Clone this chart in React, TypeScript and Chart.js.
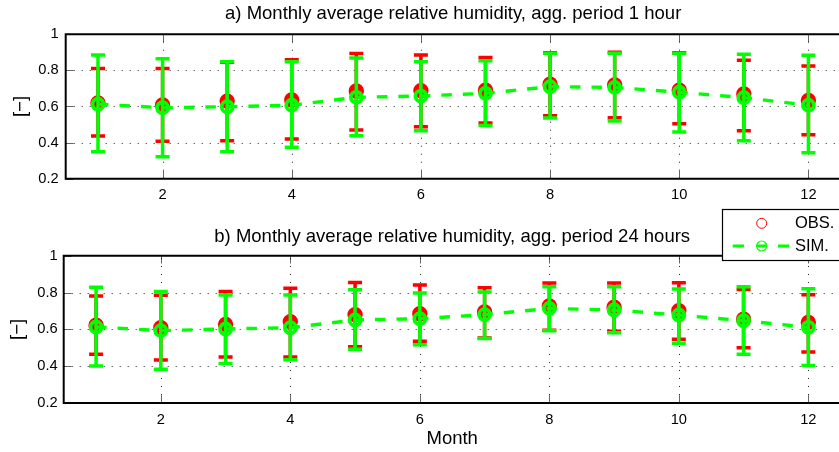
import React, { useEffect, useRef } from "react";
import { Chart, registerables } from "chart.js";

Chart.register(...registerables);

// ---------- data ----------
const MONTHS = [1, 2, 3, 4, 5, 6, 7, 8, 9, 10, 11, 12];
const X_TICKS = [2, 4, 6, 8, 10, 12];
const Y_TICKS = [0.2, 0.4, 0.6, 0.8, 1];
const SERIES_LABELS = ["OBS.", "SIM."];
const TITLE_A = "a) Monthly average relative humidity, agg. period 1 hour";
const TITLE_B = "b) Monthly average relative humidity, agg. period 24 hours";
const X_LABEL = "Month";
const Y_LABEL = "[\u2212]";

// a) aggregation period 1 hour
const OBS_A = [0.62, 0.608, 0.63, 0.636, 0.686, 0.688, 0.69, 0.723, 0.72, 0.69, 0.669, 0.634];
const OBS_A_LOW = [0.437, 0.407, 0.41, 0.42, 0.47, 0.488, 0.508, 0.549, 0.538, 0.505, 0.466, 0.444];
const OBS_A_HIGH = [0.81, 0.81, 0.845, 0.859, 0.893, 0.885, 0.871, 0.898, 0.9, 0.898, 0.856, 0.824];
const SIM_A = [0.613, 0.593, 0.599, 0.607, 0.651, 0.658, 0.673, 0.71, 0.706, 0.679, 0.649, 0.607];
const SIM_A_LOW = [0.35, 0.322, 0.35, 0.374, 0.438, 0.466, 0.495, 0.536, 0.52, 0.459, 0.41, 0.344];
const SIM_A_HIGH = [0.885, 0.865, 0.848, 0.848, 0.869, 0.848, 0.853, 0.895, 0.895, 0.895, 0.889, 0.884];

// b) aggregation period 24 hours
const OBS_B = [0.622, 0.609, 0.627, 0.642, 0.68, 0.685, 0.694, 0.727, 0.72, 0.701, 0.655, 0.638];
const OBS_B_LOW = [0.465, 0.434, 0.45, 0.45, 0.506, 0.535, 0.553, 0.595, 0.59, 0.546, 0.5, 0.477];
const OBS_B_HIGH = [0.781, 0.785, 0.805, 0.823, 0.855, 0.841, 0.826, 0.852, 0.852, 0.853, 0.817, 0.788];
const SIM_B = [0.613, 0.593, 0.602, 0.609, 0.651, 0.658, 0.68, 0.714, 0.705, 0.678, 0.647, 0.611];
const SIM_B_LOW = [0.401, 0.383, 0.414, 0.435, 0.492, 0.517, 0.55, 0.593, 0.582, 0.524, 0.465, 0.403];
const SIM_B_HIGH = [0.828, 0.805, 0.787, 0.787, 0.815, 0.797, 0.803, 0.832, 0.832, 0.819, 0.832, 0.821];

// ---------- style ----------
const FONT = "'Liberation Sans', Arial, Helvetica, sans-serif";
const RED = "#ff0000";
const GREEN = "#00ff00";
const CANVAS_W = 850;

type Panel = {
  title: string;
  obs: number[];
  obsLow: number[];
  obsHigh: number[];
  sim: number[];
  simLow: number[];
  simHigh: number[];
  top: number;
  height: number;
  yAxisWidth: number;
  xAxisHeight: number;
  titlePadTop: number;
  titlePadBottom: number;
  yTitlePad: number;
  yTickPad: number;
  xTickPad: number;
  xTitle: boolean;
  legend: boolean;
};

const PANELS: Panel[] = [
  {
    title: TITLE_A,
    obs: OBS_A, obsLow: OBS_A_LOW, obsHigh: OBS_A_HIGH,
    sim: SIM_A, simLow: SIM_A_LOW, simHigh: SIM_A_HIGH,
    top: 0, height: 220,
    yAxisWidth: 65.7, xAxisHeight: 41.3,
    titlePadTop: 3.2, titlePadBottom: 8.9,
    yTitlePad: 9.4, yTickPad: 7, xTickPad: 7,
    xTitle: false, legend: false,
  },
  {
    title: TITLE_B,
    obs: OBS_B, obsLow: OBS_B_LOW, obsHigh: OBS_B_HIGH,
    sim: SIM_B, simLow: SIM_B_LOW, simHigh: SIM_B_HIGH,
    top: 200, height: 252,
    yAxisWidth: 63.7, xAxisHeight: 49,
    titlePadTop: 25.6, titlePadBottom: 7.9,
    yTitlePad: 7.2, yTickPad: 6, xTickPad: 8,
    xTitle: true, legend: true,
  },
];

function makePlugin(panel: Panel) {
  return {
    id: "matlabStyle",
    beforeDatasetsDraw(chart: any) {
      const { ctx, chartArea: ca } = chart;
      const xs = chart.scales.x;
      const ys = chart.scales.y;
      ctx.save();
      ctx.strokeStyle = "rgba(0,0,0,0.85)";
      ctx.lineWidth = 1;
      ctx.setLineDash([1, 7]);
      xs.ticks.forEach((t: any) => {
        const px = Math.round(xs.getPixelForValue(t.value)) + 0.5;
        ctx.beginPath();
        ctx.moveTo(px, ca.bottom);
        ctx.lineTo(px, ca.top);
        ctx.stroke();
      });
      ys.ticks.forEach((t: any) => {
        if (t.value <= ys.min + 1e-9 || t.value >= ys.max - 1e-9) return;
        const py = Math.round(ys.getPixelForValue(t.value)) + 0.5;
        ctx.beginPath();
        ctx.moveTo(ca.left, py);
        ctx.lineTo(ca.right, py);
        ctx.stroke();
      });
      ctx.restore();
    },
    beforeDatasetDraw(chart: any, args: any) {
      const ds = chart.data.datasets[args.index];
      if (!ds.errLow) return;
      const xs = chart.scales.x;
      const ys = chart.scales.y;
      const ctx = chart.ctx;
      ctx.save();
      ctx.strokeStyle = ds.errColor;
      ctx.lineWidth = 3.5;
      ctx.lineCap = "butt";
      ds.data.forEach((pt: any, i: number) => {
        const px = xs.getPixelForValue(pt.x);
        const pl = ys.getPixelForValue(ds.errLow[i]);
        const ph = ys.getPixelForValue(ds.errHigh[i]);
        ctx.beginPath();
        ctx.moveTo(px, pl);
        ctx.lineTo(px, ph);
        ctx.moveTo(px - 7, pl);
        ctx.lineTo(px + 7, pl);
        ctx.moveTo(px - 7, ph);
        ctx.lineTo(px + 7, ph);
        ctx.stroke();
      });
      ctx.restore();
    },
    afterDatasetsDraw(chart: any) {
      const { ctx, chartArea: ca } = chart;
      const xs = chart.scales.x;
      const ys = chart.scales.y;
      ctx.save();
      // inward tick marks
      ctx.strokeStyle = "rgba(0,0,0,0.6)";
      ctx.lineWidth = 1;
      const tl = 7.8;
      xs.ticks.forEach((t: any) => {
        const px = Math.round(xs.getPixelForValue(t.value)) + 0.5;
        ctx.beginPath();
        ctx.moveTo(px, ca.bottom);
        ctx.lineTo(px, ca.bottom - tl);
        ctx.moveTo(px, ca.top);
        ctx.lineTo(px, ca.top + tl);
        ctx.stroke();
      });
      ys.ticks.forEach((t: any) => {
        const py = Math.round(ys.getPixelForValue(t.value)) + 0.5;
        ctx.beginPath();
        ctx.moveTo(ca.left, py);
        ctx.lineTo(ca.left + tl, py);
        ctx.stroke();
      });
      // axes box (left, top, bottom)
      ctx.strokeStyle = "#000";
      ctx.lineWidth = 2;
      ctx.beginPath();
      ctx.moveTo(ca.right + 2, ca.top);
      ctx.lineTo(ca.left, ca.top);
      ctx.lineTo(ca.left, ca.bottom);
      ctx.lineTo(ca.right + 2, ca.bottom);
      ctx.stroke();

      if (panel.legend) {
        const bx = 722.5;
        const by = 9.5;
        ctx.fillStyle = "#fff";
        ctx.fillRect(bx, by, 200, 51);
        ctx.strokeStyle = "#000";
        ctx.lineWidth = 1.2;
        ctx.strokeRect(bx, by, 200, 51);
        const mx = 761.7;
        const r1 = 23.3;
        const r2 = 46;
        // OBS marker
        ctx.strokeStyle = RED;
        ctx.lineWidth = 1;
        ctx.beginPath();
        ctx.arc(mx, r1, 5, 0, Math.PI * 2);
        ctx.stroke();
        // SIM line + marker
        ctx.strokeStyle = GREEN;
        ctx.lineWidth = 3;
        ctx.beginPath();
        ctx.moveTo(732.7, r2);
        ctx.lineTo(744, r2);
        ctx.moveTo(756.5, r2);
        ctx.lineTo(767, r2);
        ctx.moveTo(778, r2);
        ctx.lineTo(789.3, r2);
        ctx.stroke();
        ctx.lineWidth = 1.2;
        ctx.beginPath();
        ctx.arc(mx, r2, 5, 0, Math.PI * 2);
        ctx.stroke();
        ctx.fillStyle = "#000";
        ctx.font = `16.5px ${FONT}`;
        ctx.textBaseline = "middle";
        ctx.textAlign = "left";
        ctx.fillText(SERIES_LABELS[0], 795, r1 + 0.5);
        ctx.fillText(SERIES_LABELS[1], 795, r2 + 0.5);
      }
      ctx.restore();
    },
  };
}

function PanelChart({ panel }: { panel: Panel }) {
  const ref = useRef<HTMLCanvasElement | null>(null);
  useEffect(() => {
    if (!ref.current) return;
    const obsData = MONTHS.map((m, i) => ({ x: m, y: panel.obs[i] }));
    const simData = MONTHS.map((m, i) => ({ x: m, y: panel.sim[i] }));
    const chart = new Chart(ref.current, {
      type: "line",
      data: {
        datasets: [
          {
            label: SERIES_LABELS[0],
            data: obsData,
            showLine: false,
            order: 2,
            pointStyle: "circle",
            pointRadius: 6.3,
            pointBorderWidth: 2.8,
            pointBorderColor: RED,
            pointBackgroundColor: RED,
            borderColor: RED,
            errLow: panel.obsLow,
            errHigh: panel.obsHigh,
            errColor: RED,
          } as any,
          {
            label: SERIES_LABELS[1],
            data: simData,
            showLine: true,
            order: 1,
            borderColor: GREEN,
            borderWidth: 3.4,
            borderDash: [10.5, 11],
            tension: 0,
            fill: false,
            pointStyle: "circle",
            pointRadius: 5.5,
            pointBorderWidth: 3.8,
            pointBorderColor: GREEN,
            pointBackgroundColor: "rgba(0,0,0,0)",
            errLow: panel.simLow,
            errHigh: panel.simHigh,
            errColor: GREEN,
          } as any,
        ],
      },
      options: {
        responsive: false,
        animation: false,
        events: [],
        layout: { padding: { left: 0, right: CANVAS_W - 845.5, top: 0, bottom: 0 } },
        plugins: {
          legend: { display: false },
          tooltip: { enabled: false },
          title: {
            display: true,
            text: panel.title,
            fullSize: false,
            color: "#000",
            font: { family: FONT, size: 18.5, weight: "normal" },
            padding: { top: panel.titlePadTop, bottom: panel.titlePadBottom },
          },
        },
        scales: {
          x: {
            type: "linear",
            position: "bottom",
            min: 0.5,
            max: 12.5,
            grid: { display: false, drawTicks: false },
            border: { display: false },
            afterBuildTicks: (s: any) => {
              s.ticks = X_TICKS.map((v) => ({ value: v }));
            },
            afterFit: (s: any) => {
              s.height = panel.xAxisHeight;
            },
            ticks: {
              autoSkip: false,
              maxRotation: 0,
              padding: panel.xTickPad,
              color: "#000",
              font: { family: FONT, size: 14.7 },
              callback: (v: any) => String(v),
            },
            title: {
              display: panel.xTitle,
              text: X_LABEL,
              color: "#000",
              font: { family: FONT, size: 18.5 },
              padding: { top: 0, bottom: 1.9 },
            },
          },
          y: {
            type: "linear",
            position: "left",
            min: 0.2,
            max: 1,
            grid: { display: false, drawTicks: false },
            border: { display: false },
            afterBuildTicks: (s: any) => {
              s.ticks = Y_TICKS.map((v) => ({ value: v }));
            },
            afterFit: (s: any) => {
              s.width = panel.yAxisWidth;
            },
            ticks: {
              padding: panel.yTickPad,
              color: "#000",
              font: { family: FONT, size: 14.7 },
              callback: (v: any) => String(v),
            },
            title: {
              display: true,
              text: Y_LABEL,
              color: "#000",
              font: { family: FONT, size: 18.5 },
              padding: { top: panel.yTitlePad, bottom: 0 },
            },
          },
        },
      },
      plugins: [makePlugin(panel)],
    } as any);
    return () => chart.destroy();
  }, [panel]);
  return (
    <canvas
      ref={ref}
      width={CANVAS_W}
      height={panel.height}
      style={{ position: "absolute", left: 0, top: panel.top, width: CANVAS_W, height: panel.height }}
    />
  );
}

export default function App() {
  return (
    <div
      style={{
        position: "fixed",
        left: 0,
        top: 0,
        width: 839,
        height: 452,
        overflow: "hidden",
        background: "#fff",
      }}
    >
      {PANELS.map((p, i) => (
        <PanelChart key={i} panel={p} />
      ))}
    </div>
  );
}
